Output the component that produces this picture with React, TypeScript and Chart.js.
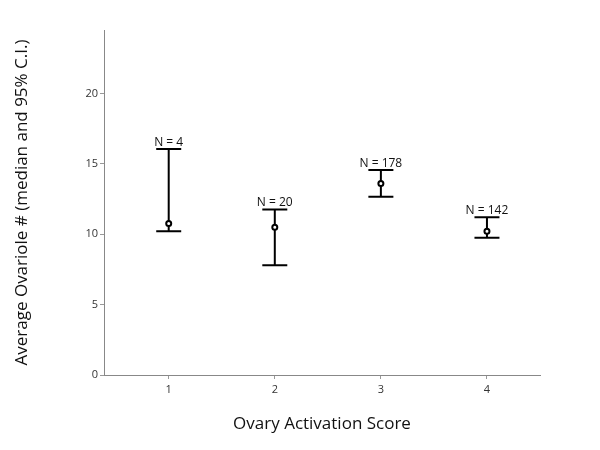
import React, { useEffect, useRef } from "react";
import { Chart, registerables } from "chart.js";

Chart.register(...registerables);

const categories = [1, 2, 3, 4];
const medians = [10.75, 10.5, 13.6, 10.2];
const lowerCI = [10.2, 7.8, 12.65, 9.75];
const upperCI = [16.05, 11.75, 14.55, 11.2];
const nLabels = ["N = 4", "N = 20", "N = 178", "N = 142"];
const yTicks = [0, 5, 10, 15, 20];
const xTitle = "Ovary Activation Score";
const yTitle = "Average Ovariole # (median and 95% C.I.)";

const FONT = "'Open Sans', 'Noto Sans', sans-serif";

const errorBarPlugin = {
  id: "errorBars",
  beforeDatasetsDraw(chart: any) {
    const ctx = chart.ctx;
    const xs = chart.scales.x;
    const ys = chart.scales.y;
    ctx.save();
    ctx.strokeStyle = "#000";
    ctx.lineWidth = 2;
    categories.forEach((c, i) => {
      const x = xs.getPixelForValue(c);
      const yl = ys.getPixelForValue(lowerCI[i]);
      const yu = ys.getPixelForValue(upperCI[i]);
      ctx.beginPath();
      ctx.moveTo(x, yl);
      ctx.lineTo(x, yu);
      ctx.moveTo(x - 12.5, yl);
      ctx.lineTo(x + 12.5, yl);
      ctx.moveTo(x - 12.5, yu);
      ctx.lineTo(x + 12.5, yu);
      ctx.stroke();
    });
    ctx.restore();
  },
  afterDatasetsDraw(chart: any) {
    const ctx = chart.ctx;
    const xs = chart.scales.x;
    const ys = chart.scales.y;
    ctx.save();
    ctx.fillStyle = "#111";
    ctx.font = `12px ${FONT}`;
    ctx.textAlign = "center";
    ctx.textBaseline = "bottom";
    categories.forEach((c, i) => {
      const x = xs.getPixelForValue(c);
      const yu = ys.getPixelForValue(upperCI[i]);
      ctx.fillText(nLabels[i], x, yu - 0.5);
    });
    ctx.restore();
  },
};

export default function App() {
  const ref = useRef<HTMLCanvasElement>(null);
  useEffect(() => {
    if (!ref.current) return;
    const chart = new Chart(ref.current, {
      type: "scatter",
      data: {
        datasets: [
          {
            data: categories.map((c, i) => ({ x: c, y: medians[i] })),
            pointRadius: 2.5,
            pointBorderWidth: 2,
            pointBorderColor: "#000",
            pointBackgroundColor: "#fff",
          },
        ],
      },
      options: {
        responsive: false,
        animation: false,
        layout: { padding: { top: 30, right: 60, left: 0, bottom: 0 } },
        plugins: { legend: { display: false }, tooltip: { enabled: false } },
        scales: {
          x: {
            type: "linear",
            min: 0.39,
            max: 4.5,
            afterBuildTicks: (s: any) => {
              s.ticks = categories.map((v) => ({ value: v }));
            },
            afterFit: (s: any) => {
              s.height = 75;
            },
            grid: {
              drawOnChartArea: false,
              tickLength: 4,
              color: "#999",
            },
            border: { color: "#888", width: 1 },
            ticks: {
              color: "#333",
              font: { family: FONT, size: 11 },
              padding: 4,
              callback: (v: any) => String(v),
            },
            title: {
              display: true,
              text: xTitle,
              color: "#111",
              font: { family: FONT, size: 17 },
              padding: { top: 0, bottom: 16 },
            },
          },
          y: {
            type: "linear",
            min: 0,
            max: 24.5,
            afterBuildTicks: (s: any) => {
              s.ticks = yTicks.map((v) => ({ value: v }));
            },
            afterFit: (s: any) => {
              s.width = 104;
            },
            grid: {
              drawOnChartArea: false,
              tickLength: 4,
              color: "#999",
            },
            border: { color: "#888", width: 1 },
            ticks: {
              color: "#333",
              font: { family: FONT, size: 11 },
              padding: 2,
              callback: (v: any) => String(v),
            },
            title: {
              display: true,
              text: yTitle,
              color: "#111",
              font: { family: FONT, size: 17 },
              padding: { top: 12, bottom: 0 },
            },
          },
        },
      },
      plugins: [errorBarPlugin],
    });
    return () => chart.destroy();
  }, []);
  return (
    <div style={{ position: "fixed", left: 0, top: 0, width: 600, height: 450, background: "#fff" }}>
      <canvas ref={ref} width={600} height={450} />
    </div>
  );
}
